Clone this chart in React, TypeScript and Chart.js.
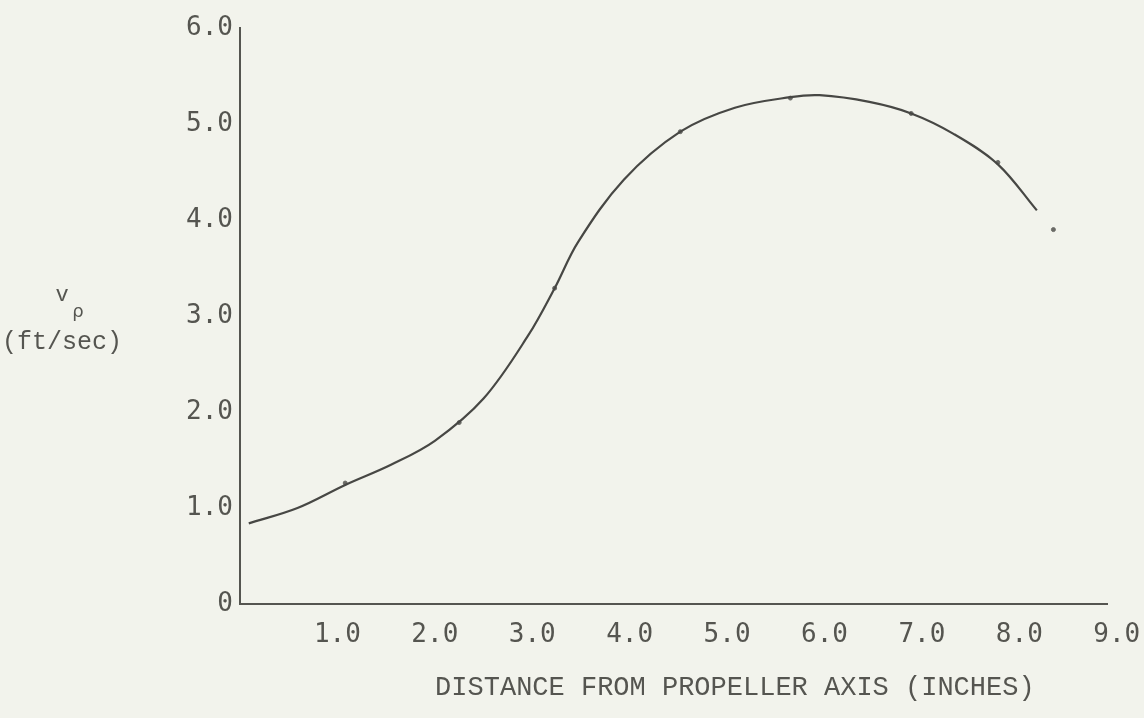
import React, { useEffect, useRef } from "react";
import { Chart, registerables } from "chart.js";

Chart.register(...registerables);

// Smooth faired curve (x in inches, v in ft/sec)
const curveX = [0.09, 0.59, 1.08, 1.55, 2.0, 2.5, 2.96, 3.23, 3.47, 3.94, 4.52, 5.08, 5.65, 5.95, 6.46, 6.89, 7.32, 7.78, 8.18];
const curveY = [0.84, 1.0, 1.24, 1.45, 1.7, 2.14, 2.8, 3.29, 3.77, 4.42, 4.92, 5.17, 5.28, 5.3, 5.23, 5.11, 4.9, 4.58, 4.1];

// Measured data points
const pointX = [1.08, 2.25, 3.23, 4.52, 5.65, 6.89, 7.78, 8.35];
const pointY = [1.26, 1.89, 3.29, 4.92, 5.27, 5.11, 4.6, 3.9];

const xTickValues = [1, 2, 3, 4, 5, 6, 7, 8, 9];
const yTickValues = [0, 1, 2, 3, 4, 5, 6];

const xTitle = "DISTANCE FROM PROPELLER AXIS (INCHES)";
const yLabelMain = "v";
const yLabelSub = "\u03C1";
const yLabelUnit = "(ft/sec)";

const INK = "#555550";
const LINE = "#474744";
const BG = "#f2f3ec";

export default function App() {
  const ref = useRef<HTMLCanvasElement | null>(null);

  useEffect(() => {
    if (!ref.current) return;
    const labelsPlugin = {
      id: "typedLabels",
      afterDraw(chart: any) {
        const ctx = chart.ctx;
        ctx.save();
        ctx.fillStyle = INK;
        ctx.textBaseline = "middle";
        ctx.textAlign = "center";
        ctx.font = '27px "Liberation Mono"';
        const xs = chart.scales.x;
        ctx.fillText(xTitle, xs.getPixelForValue(5.08), 688);
        ctx.font = '22px "Liberation Mono"';
        ctx.fillText(yLabelMain, 62, 295);
        ctx.font = '18px "DejaVu Sans"';
        ctx.fillText(yLabelSub, 78, 312);
        ctx.font = '25px "Liberation Mono"';
        ctx.fillText(yLabelUnit, 62, 342);
        ctx.restore();
      },
    };

    const chart = new Chart(ref.current, {
      type: "line",
      data: {
        datasets: [
          {
            label: "curve",
            data: curveX.map((x, i) => ({ x, y: curveY[i] })),
            borderColor: LINE,
            borderWidth: 2.2,
            pointRadius: 0,
            tension: 0.35,
            fill: false,
          },
          {
            label: "points",
            type: "scatter",
            data: pointX.map((x, i) => ({ x, y: pointY[i] })),
            borderColor: "#6a6a66",
            backgroundColor: "#6a6a66",
            pointRadius: 2,
            pointStyle: "circle",
            showLine: false,
          } as any,
        ],
      },
      options: {
        animation: false,
        responsive: true,
        maintainAspectRatio: false,
        layout: { padding: { left: 0, right: 37, top: 28, bottom: 0 } },
        plugins: {
          legend: { display: false },
          tooltip: { enabled: false },
        },
        scales: {
          x: {
            type: "linear",
            min: 0,
            max: 8.9,
            afterBuildTicks: (s: any) => {
              s.ticks = xTickValues.map((v) => ({ value: v }));
            },
            afterFit: (s: any) => {
              s.height = 114;
              s.paddingLeft = 0;
              s.paddingRight = 0;
            },
            grid: { color: "transparent", drawTicks: false },
            border: { display: true, color: INK, width: 2 },
            ticks: {
              autoSkip: false,
              maxRotation: 0,
              padding: 16,
              color: INK,
              font: { family: '"DejaVu Sans Mono"', size: 26 },
              callback: (v: any) => Number(v).toFixed(1),
            },
          },
          y: {
            type: "linear",
            min: 0,
            max: 6,
            afterBuildTicks: (s: any) => {
              s.ticks = yTickValues.map((v) => ({ value: v }));
            },
            afterFit: (s: any) => {
              s.width = 240;
              s.paddingTop = 0;
              s.paddingBottom = 0;
            },
            grid: { color: "transparent", drawTicks: false },
            border: { display: true, color: INK, width: 2 },
            ticks: {
              padding: 7,
              color: INK,
              font: { family: '"DejaVu Sans Mono"', size: 26 },
              callback: (v: any) => (Number(v) === 0 ? "0" : Number(v).toFixed(1)),
            },
          },
        },
      },
      plugins: [labelsPlugin],
    });
    return () => chart.destroy();
  }, []);

  return (
    <div
      style={{
        position: "fixed",
        left: 0,
        top: 0,
        width: 1144,
        height: 718,
        background: BG,
      }}
    >
      <canvas ref={ref} />
    </div>
  );
}
